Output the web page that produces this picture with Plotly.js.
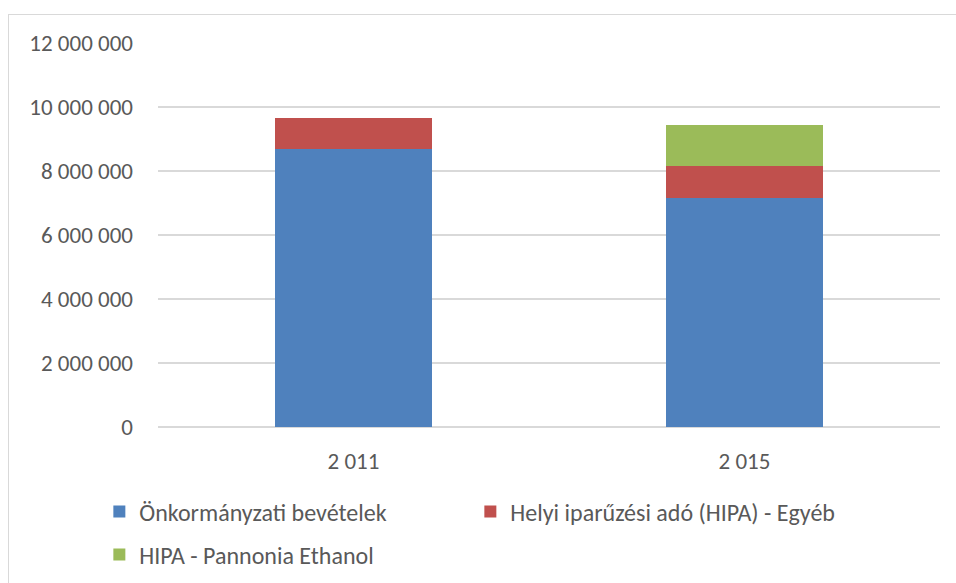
<!DOCTYPE html>
<html>
<head>
<meta charset="utf-8">
<script src="https://cdn.plot.ly/plotly-3.0.1.min.js"></script>
<style>
  html, body { margin: 0; padding: 0; background: #fff; overflow: hidden; }
  #frame { position: absolute; left: 8px; top: 14px; width: 1000px; height: 700px; border: 1px solid #d9d9d9; box-sizing: border-box; }
  #chart { position: absolute; left: 0; top: 0; width: 956px; height: 583px; }
</style>
</head>
<body>
<div id="frame"></div>
<div id="chart"></div>
<script>
const categories = ["2 011", "2 015"];
const seriesNames = ["Önkormányzati bevételek", "Helyi iparűzési adó (HIPA) - Egyéb", "HIPA - Pannonia Ethanol"];
const onkormanyzati = [8690000, 7150000];
const hipaEgyeb = [960000, 1010000];
const hipaPannonia = [0, 1280000];
const yTicks = [0, 2000000, 4000000, 6000000, 8000000, 10000000, 12000000];

const colors = ["#4F81BD", "#C0504D", "#9BBB59"];
const fontFam = "Carlito, Calibri, Lato, sans-serif";

const traces = [
  { type: "bar", x: categories, y: onkormanyzati, name: seriesNames[0], marker: { color: colors[0] }, legend: "legend" },
  { type: "bar", x: categories, y: hipaEgyeb, name: seriesNames[1], marker: { color: colors[1] }, legend: "legend" },
  { type: "bar", x: categories, y: hipaPannonia, name: seriesNames[2], marker: { color: colors[2] }, legend: "legend2" }
];

const legendCommon = {
  orientation: "h", xanchor: "left", yanchor: "middle",
  font: { family: fontFam, size: 24, color: "#595959" },
  bgcolor: "rgba(0,0,0,0)", itemwidth: 30, entrywidth: 326, entrywidthmode: "pixels",
  traceorder: "normal"
};

const layout = {
  width: 956, height: 583,
  margin: { l: 158, r: 16, t: 43, b: 156, autoexpand: false },
  paper_bgcolor: "rgba(0,0,0,0)", plot_bgcolor: "rgba(0,0,0,0)",
  separators: ", ",
  barmode: "stack",
  bargap: 0.6,
  font: { family: fontFam, size: 23, color: "#595959" },
  xaxis: {
    type: "category", showgrid: false, showline: false, zeroline: false,
    ticks: "", ticklabelstandoff: 18, automargin: false,
    tickfont: { family: fontFam, size: 23, color: "#595959" }
  },
  yaxis: {
    range: [0, 12000000], tickvals: yTicks, tickformat: ",d",
    showgrid: true, gridcolor: "#d9d9d9", gridwidth: 1.6,
    zeroline: true, zerolinecolor: "#d9d9d9", zerolinewidth: 1.6,
    showline: false, ticks: "", ticklabelstandoff: 24, automargin: false,
    tickfont: { family: fontFam, size: 23, color: "#595959" }
  },
  legend: Object.assign({}, legendCommon, { x: -0.075, y: -0.221 }),
  legend2: Object.assign({}, legendCommon, { x: -0.075, y: -0.333 }),
  showlegend: true
};

Plotly.newPlot("chart", traces, layout, { displayModeBar: false, staticPlot: true });
</script>
</body>
</html>
